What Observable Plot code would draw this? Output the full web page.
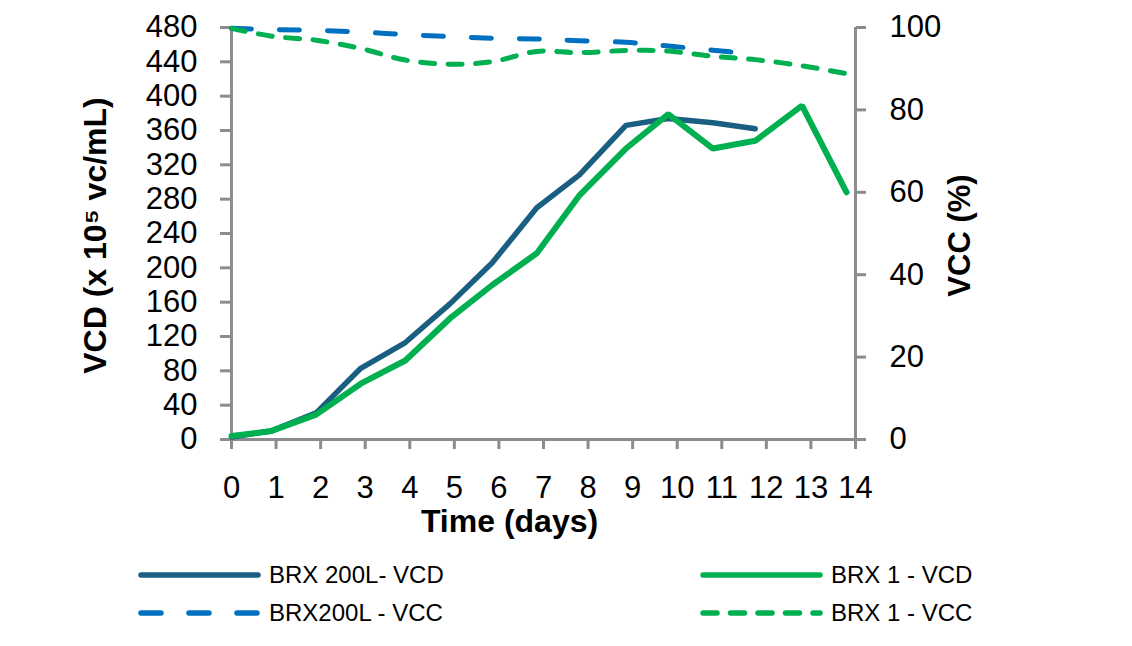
<!DOCTYPE html>
<html>
<head>
<meta charset="utf-8">
<script src="https://cdn.jsdelivr.net/npm/d3@7"></script>
<script src="https://cdn.jsdelivr.net/npm/@observablehq/plot@0.6"></script>
<style>
  html, body { margin: 0; padding: 0; background: #ffffff; }
  body { width: 1132px; height: 646px; overflow: hidden; font-family: "Liberation Sans", Arial, sans-serif; }
  #legend { position: relative; width: 1132px; height: 98px; font-size: 24px; color: #000; }
  .item { position: absolute; display: flex; align-items: center; white-space: nowrap; }
  .item svg { display: block; }
</style>
</head>
<body>
<div id="chart"></div>
<div id="legend"></div>
<script>
// ---- data ----
const days       = [0, 0.9, 1.9, 2.9, 3.9, 4.9, 5.85, 6.85, 7.8, 8.85, 9.8, 10.8, 11.75, 12.8, 13.8];
const brx200VCD  = [3, 10, 31, 83, 113, 158, 206, 270, 308, 366, 374, 369, 362];
const brx1VCD    = [4, 10, 29, 65, 92, 141, 180, 217, 284, 339, 379, 339, 348, 389, 288];
const brx200VCC  = [99.8, 99.5, 99.3, 98.9, 98.3, 97.8, 97.4, 97.2, 96.8, 96.4, 95.5, 94.5, 93.5];
const brx1VCC    = [99.8, 97.9, 96.9, 94.9, 92.1, 91.1, 91.7, 94.2, 93.9, 94.4, 94.3, 93.0, 92.2, 90.7, 88.8];
const xTicks     = [0, 1, 2, 3, 4, 5, 6, 7, 8, 9, 10, 11, 12, 13, 14];
const vcdTicks   = [0, 40, 80, 120, 160, 200, 240, 280, 320, 360, 400, 440, 480];
const vccTicks   = [0, 20, 40, 60, 80, 100];
const seriesNames = ["BRX 200L- VCD", "BRX 1 - VCD", "BRX200L - VCC", "BRX 1 - VCC"];
const seriesColors = ["#1a5f82", "#00b050", "#0070c0", "#00b050"];

const VCD_MAX = 480, VCC_MAX = 100;
const k = VCD_MAX / VCC_MAX; // map VCC (%) onto the VCD scale

const rows = (vals, mapper) => vals.map((v, i) => ({day: days[i], value: mapper ? mapper(v) : v}));
const dBlueVCD = rows(brx200VCD);
const dGreenVCD = rows(brx1VCD);
const dBlueVCC = rows(brx200VCC, v => v * k);
const dGreenVCC = rows(brx1VCC, v => v * k);

const gray = "#8c8c8c";
const font = "'Liberation Sans', Arial, sans-serif";
const blueDash = "20,28";
const greenDash = "14,13.5";

const chart = Plot.plot({
  width: 1132,
  height: 548,
  marginLeft: 231,
  marginRight: 277,
  marginTop: 27,
  marginBottom: 109,
  x: {domain: [0, 14]},
  y: {domain: [0, VCD_MAX]},
  style: {fontFamily: font, fontSize: "31px", color: "#000", background: "#fff", overflow: "visible"},
  marks: [
    Plot.axisX({ticks: xTicks, tickSize: 10, tickPadding: 26, stroke: gray, strokeWidth: 3, fontSize: 31, label: null, tickFormat: d => String(d)}),
    Plot.axisY({ticks: vcdTicks, tickSize: 11, tickPadding: 23, stroke: gray, strokeWidth: 3, fontSize: 31, label: null, tickFormat: d => String(d)}),
    Plot.axisY({anchor: "right", ticks: vccTicks.map(v => v * k), tickFormat: d => String(Math.round(d / k)), tickSize: 10, tickPadding: 24, stroke: gray, strokeWidth: 3, fontSize: 31, label: null}),
    Plot.ruleX([0], {stroke: gray, strokeWidth: 3}),
    Plot.ruleX([14], {stroke: gray, strokeWidth: 3}),
    Plot.ruleY([0], {stroke: gray, strokeWidth: 3}),
    Plot.line(dBlueVCC, {x: "day", y: "value", stroke: seriesColors[2], strokeWidth: 5, strokeDasharray: blueDash, strokeLinecap: "round", curve: "catmull-rom"}),
    Plot.line(dGreenVCC, {x: "day", y: "value", stroke: seriesColors[3], strokeWidth: 5, strokeDasharray: greenDash, strokeLinecap: "round", curve: "catmull-rom"}),
    Plot.line(dBlueVCD, {x: "day", y: "value", stroke: seriesColors[0], strokeWidth: 5.5, strokeLinecap: "round", strokeLinejoin: "miter"}),
    Plot.line(dGreenVCD, {x: "day", y: "value", stroke: seriesColors[1], strokeWidth: 6, strokeLinecap: "round", strokeLinejoin: "miter"}),
    Plot.text(["VCD (x 10\u2075 vc/mL)"], {frameAnchor: "left", dx: -136, dy: 2, rotate: -90, textAnchor: "middle", lineAnchor: "middle", fontSize: 32, fontWeight: "bold", fill: "#000"}),
    Plot.text(["VCC (%)"], {frameAnchor: "right", dx: 105, dy: 2, rotate: -90, textAnchor: "middle", lineAnchor: "middle", fontSize: 31, fontWeight: "bold", fill: "#000"}),
    Plot.text(["Time (days)"], {frameAnchor: "bottom", dx: -34, dy: 82, textAnchor: "middle", lineAnchor: "middle", fontSize: 32, fontWeight: "bold", fill: "#000"})
  ]
});
document.getElementById("chart").appendChild(chart);

// ---- legend ----
const legend = document.getElementById("legend");
const legendOrder = [0, 1, 2, 3];
const dashes = [null, null, blueDash, greenDash];
legendOrder.forEach((si, idx) => {
  const col = idx % 2, row = Math.floor(idx / 2);
  const item = document.createElement("div");
  item.className = "item";
  item.style.left = (col === 0 ? 137 : 699) + "px";
  item.style.top = (row === 0 ? 12 : 50) + "px";
  item.style.height = "30px";
  const sw = document.createElementNS("http://www.w3.org/2000/svg", "svg");
  sw.setAttribute("width", 126);
  sw.setAttribute("height", 30);
  const ln = document.createElementNS("http://www.w3.org/2000/svg", "line");
  ln.setAttribute("x1", 4); ln.setAttribute("x2", 121);
  ln.setAttribute("y1", 15); ln.setAttribute("y2", 15);
  ln.setAttribute("stroke", seriesColors[si]);
  ln.setAttribute("stroke-width", 5.5);
  ln.setAttribute("stroke-linecap", "round");
  if (dashes[si]) ln.setAttribute("stroke-dasharray", dashes[si]);
  sw.appendChild(ln);
  item.appendChild(sw);
  const t = document.createElement("span");
  t.textContent = seriesNames[si];
  t.style.marginLeft = "6px";
  item.appendChild(t);
  legend.appendChild(item);
});
</script>
</body>
</html>
